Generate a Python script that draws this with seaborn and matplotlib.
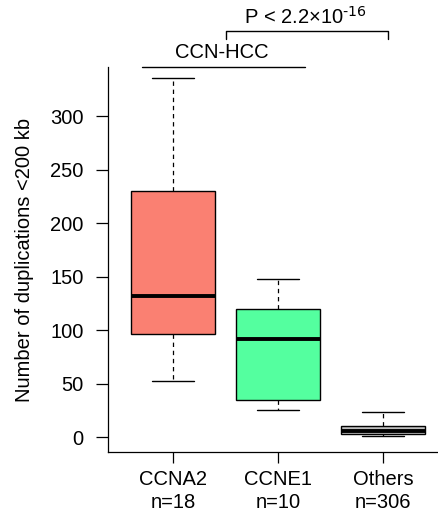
import pandas as pd
import matplotlib
matplotlib.use("Agg")
import matplotlib.pyplot as plt
import seaborn as sns

# ---------------- data ------------------------------------------
groups = ["CCNA2", "CCNE1", "Others"]
n_labels = ["n=18", "n=10", "n=306"]
box_colors = ["#FA8072", "#54FF9F", "#BEBEBE"]     # salmon, seagreen1, grey

# five number summary per group: min, q1, median, q3, max
mins = [52, 25, 1]
q1s = [96, 35, 3]
medians = [132, 92, 6]
q3s = [230, 120, 10]
maxs = [336, 148, 23]

y_ticks = [0, 50, 100, 150, 200, 250, 300]

# build a long table, 5 points per group -> quantiles land exactly on the values
rows = []
for i, g in enumerate(groups):
    for v in (mins[i], q1s[i], medians[i], q3s[i], maxs[i]):
        rows.append({"group": g, "value": v})
df = pd.DataFrame(rows)

# ---------------- plot -----------------
sns.set_style("ticks", {"text.color": "black", "axes.labelcolor": "black",
                        "xtick.color": "black", "ytick.color": "black",
                        "axes.edgecolor": "black"})
plt.rcParams["font.family"] = ["Liberation Sans", "DejaVu Sans"]
plt.rcParams["mathtext.default"] = "regular"
fs = 14.5

fig = plt.figure(figsize=(4.38, 5.22), dpi=100)
ax = fig.add_axes([108 / 438, 1 - 452 / 522, 1 - 108 / 438, (452 - 67) / 522])

sns.boxplot(data=df, x="group", y="value", hue="group", order=groups,
            palette=dict(zip(groups, box_colors)), saturation=1, legend=False,
            whis=(0, 100), width=0.8, showfliers=False, linecolor="black",
            linewidth=1.0,
            whiskerprops={"linestyle": (0, (3.5, 3)), "linewidth": 0.9},
            capprops={"linewidth": 1.0},
            medianprops={"linewidth": 2.8, "color": "black"},
            ax=ax)

ax.set_ylim(-14, 346)
ax.set_xlim(-0.62, 2.52)
ax.set_yticks(y_ticks)
ax.set_xticks(range(len(groups)))
ax.set_xticklabels([g + "\n" + n for g, n in zip(groups, n_labels)],
                   fontsize=fs, linespacing=1.25)
ax.set_yticklabels([str(t) for t in y_ticks], fontsize=fs)
ax.set_xlabel("")
ax.set_ylabel("Number of duplications <200 kb", fontsize=fs, labelpad=12)
ax.tick_params(axis="y", length=8.5, width=0.9, pad=9, color="black")
ax.tick_params(axis="x", length=8, width=0.9, pad=5, color="black")

for side in ["top", "right"]:
    ax.spines[side].set_visible(False)
for side in ["left", "bottom"]:
    ax.spines[side].set_linewidth(0.9)
    ax.spines[side].set_color("black")

# ---------------- annotations above the plot -----------------
ax.plot([-0.295, 1.257], [346, 346], color="black", lw=1.0, clip_on=False)
ax.text(0.467, 351, "CCN-HCC", ha="center", va="bottom", fontsize=fs)

ax.plot([0.505, 0.505, 2.048, 2.048], [372, 379.5, 379.5, 372],
        color="black", lw=1.0, clip_on=False)
ax.text(1.257, 383, r"P < 2.2×10$^{\text{-16}}$", ha="center", va="bottom",
        fontsize=fs)

fig.savefig("out.png", dpi=100)
